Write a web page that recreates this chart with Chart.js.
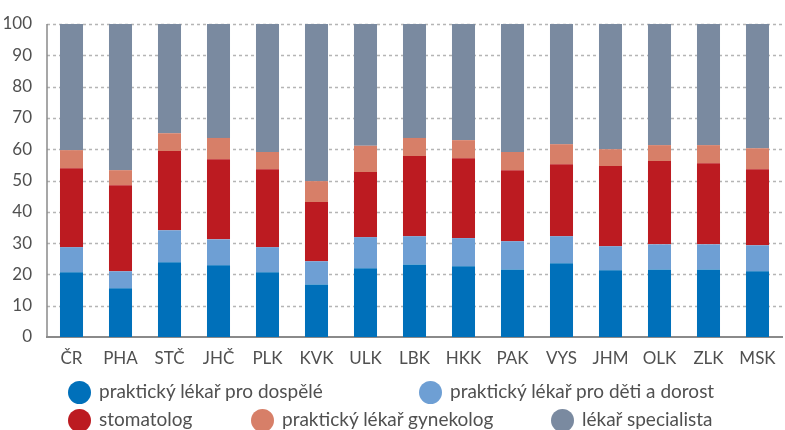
<!DOCTYPE html>
<html>
<head>
<meta charset="utf-8">
<script src="https://cdn.jsdelivr.net/npm/chart.js@4"></script>
<style>
  body { margin: 0; background: #fff; }
  #wrap { position: relative; width: 785px; height: 430px; }
  #legend { position: absolute; left: 0; top: 0; width: 785px; height: 430px; pointer-events: none;
            font-family: Lato, sans-serif; font-size: 19px; color: #505050; }
  .item { position: absolute; white-space: nowrap; line-height: 24px; }
  .dot { position: absolute; width: 23px; height: 23px; border-radius: 50%; }
</style>
</head>
<body>
<div id="wrap">
  <canvas id="graph" width="785" height="430"></canvas>
  <div id="legend"></div>
</div>
<script>
// kraje
const kraje = ['ČR', 'PHA', 'STČ', 'JHČ', 'PLK', 'KVK', 'ULK', 'LBK', 'HKK', 'PAK', 'VYS', 'JHM', 'OLK', 'ZLK', 'MSK'];

// podíly v %
const dospele    = [20.7, 15.6, 23.9, 22.9, 20.7, 16.8, 22.0, 23.2, 22.6, 21.6, 23.6, 21.3, 21.6, 21.6, 21.0];
const detiDorost = [ 8.0,  5.4, 10.2,  8.3,  8.0,  7.4,  9.9,  9.0,  9.0,  9.0,  8.6,  7.7,  8.0,  8.0,  8.3];
const stomatolog = [25.2, 27.5, 25.3, 25.6, 24.9, 18.9, 20.8, 25.6, 25.5, 22.7, 23.0, 25.6, 26.6, 25.9, 24.3];
const gynekolog  = [ 5.8,  4.8,  5.7,  6.8,  5.5,  6.7,  8.4,  5.8,  5.8,  5.8,  6.4,  5.4,  5.1,  5.8,  6.7];
const specialista= [40.3, 46.7, 34.9, 36.4, 40.9, 50.2, 38.9, 36.4, 37.1, 40.9, 38.4, 40.0, 38.7, 38.7, 39.7];

const osaY = [0, 10, 20, 30, 40, 50, 60, 70, 80, 90, 100];

const serie = [
  { label: 'praktický lékař pro dospělé', data: dospele, color: '#0070BA' },
  { label: 'praktický lékař pro děti a dorost', data: detiDorost, color: '#6E9FD4' },
  { label: 'stomatolog', data: stomatolog, color: '#BC1B21' },
  { label: 'praktický lékař gynekolog', data: gynekolog, color: '#D77F68' },
  { label: 'lékař specialista', data: specialista, color: '#7A8AA0' }
];

const pismo = 'Lato';

const ctx = document.getElementById('graph').getContext('2d');
new Chart(ctx, {
  type: 'bar',
  data: {
    labels: kraje,
    datasets: serie.map(s => ({
      label: s.label,
      data: s.data,
      backgroundColor: s.color,
      borderWidth: 0,
      barPercentage: 0.47,
      categoryPercentage: 1
    }))
  },
  options: {
    responsive: false,
    animation: false,
    layout: { padding: { top: 24, right: 3, bottom: 66, left: 0 } },
    plugins: { legend: { display: false }, tooltip: { enabled: false } },
    scales: {
      x: {
        stacked: true,
        grid: { display: false },
        border: { display: true, color: '#8a8a8a', width: 2 },
        ticks: { color: '#505050', font: { family: pismo, size: 17 }, padding: 3, maxRotation: 0 },
        afterFit: s => { s.height = 27; }
      },
      y: {
        stacked: true,
        min: 0,
        max: 100,
        afterBuildTicks: s => { s.ticks = osaY.map(v => ({ value: v })); },
        grid: { display: false },
        border: { display: false },
        ticks: { color: '#505050', font: { family: pismo, size: 17 }, padding: 7 },
        afterFit: s => { s.width = 47; }
      }
    }
  },
  plugins: [{
    // čárkovaná mřížka a plná svislá osa
    id: 'osy',
    beforeDatasetsDraw(chart) {
      const a = chart.chartArea, c = chart.ctx, y = chart.scales.y;
      c.save();
      c.strokeStyle = '#b5b5b5';
      c.lineWidth = 1.5;
      c.setLineDash([3, 3]);
      osaY.slice(1).forEach(v => {
        const py = Math.round(y.getPixelForValue(v)) + 0.5;
        c.beginPath();
        c.moveTo(a.left, py);
        c.lineTo(a.right, py);
        c.stroke();
      });
      c.setLineDash([]);
      c.strokeStyle = '#8a8a8a';
      c.beginPath();
      c.moveTo(a.left, a.top);
      c.lineTo(a.left, a.bottom);
      c.stroke();
      c.restore();
    }
  }]
});

// legenda ve dvou řádcích
const pozice = [
  { x: 79, y: 392 }, { x: 430, y: 392 },
  { x: 79, y: 420 }, { x: 262, y: 420 }, { x: 562, y: 420 }
];
const leg = document.getElementById('legend');
serie.forEach((s, i) => {
  const p = pozice[i];
  const d = document.createElement('div');
  d.className = 'dot';
  d.style.background = s.color;
  d.style.left = (p.x - 11.5) + 'px';
  d.style.top = (p.y - 11.5) + 'px';
  leg.appendChild(d);
  const t = document.createElement('div');
  t.className = 'item';
  t.textContent = s.label;
  t.style.left = (p.x + 20) + 'px';
  t.style.top = (p.y - 13) + 'px';
  leg.appendChild(t);
});
</script>
</body>
</html>
